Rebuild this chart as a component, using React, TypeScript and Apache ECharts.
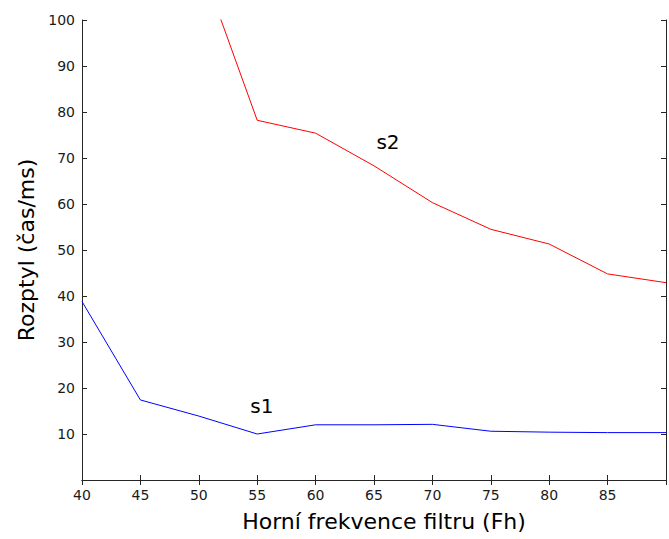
import React, { useEffect, useRef } from "react";
import * as echarts from "echarts";

// Upper filter frequency (Fh) and measured spread for the two subjects
const fh1 = [40, 45, 50, 55, 60, 65, 70, 75, 80, 85, 90];
const s1Values = [38.8, 17.4, 13.9, 10.0, 12.0, 12.0, 12.1, 10.6, 10.4, 10.3, 10.3];
const fh2 = [50, 55, 60, 65, 70, 75, 80, 85, 90];
const s2Values = [113.4, 78.2, 75.4, 68.3, 60.3, 54.5, 51.3, 44.8, 42.9];

const xHiddenLabels = [90];
const yHiddenLabels = [0];

const FONT = "'DejaVu Sans', sans-serif";
const AXIS_COLOR = "#262626";

export default function App() {
  const ref = useRef<HTMLDivElement>(null);

  useEffect(() => {
    if (!ref.current) return;
    const chart = echarts.init(ref.current, undefined, { renderer: "svg" });

    const axisLine = { show: true, lineStyle: { color: AXIS_COLOR, width: 1 } };
    const axisTick = { show: true, inside: true, length: 5, lineStyle: { color: AXIS_COLOR } };

    chart.setOption({
      animation: false,
      backgroundColor: "#ffffff",
      grid: { left: 82, right: 1, top: 20, bottom: 59, containLabel: false },
      xAxis: [
        {
          type: "value",
          min: 40,
          max: 90,
          interval: 5,
          position: "bottom",
          axisLine,
          axisTick,
          splitLine: { show: false },
          axisLabel: {
            margin: 8,
            color: "#1a1a1a",
            fontFamily: FONT,
            fontSize: 14,
            formatter: (v: number) => (xHiddenLabels.includes(v) ? "" : String(v)),
          },
          name: "Horní frekvence filtru (Fh)",
          nameLocation: "middle",
          nameGap: 30,
          nameTextStyle: {
            color: "#000",
            fontFamily: FONT,
            fontSize: 22,
            padding: [0, 0, 0, 20],
          },
        },
        {
          type: "value",
          min: 40,
          max: 90,
          interval: 5,
          position: "top",
          axisLine,
          axisTick,
          splitLine: { show: false },
          axisLabel: { show: false },
        },
      ],
      yAxis: [
        {
          type: "value",
          min: 0,
          max: 100,
          interval: 10,
          position: "left",
          axisLine,
          axisTick,
          splitLine: { show: false },
          axisLabel: {
            margin: 7,
            color: "#1a1a1a",
            fontFamily: FONT,
            fontSize: 14,
            formatter: (v: number) => (yHiddenLabels.includes(v) ? "" : String(v)),
          },
          name: "Rozptyl (čas/ms)",
          nameLocation: "middle",
          nameGap: 44,
          nameTextStyle: { color: "#000", fontFamily: FONT, fontSize: 22 },
        },
        {
          type: "value",
          min: 0,
          max: 100,
          interval: 10,
          position: "right",
          axisLine,
          axisTick,
          splitLine: { show: false },
          axisLabel: { show: false },
        },
      ],
      series: [
        {
          name: "s1",
          type: "line",
          data: fh1.map((x, i) => [x, s1Values[i]]),
          symbol: "none",
          clip: true,
          lineStyle: { color: "#0000ff", width: 1 },
          markPoint: {
            symbol: "circle",
            symbolSize: 0,
            data: [{ coord: [55.4, 16.1] }],
            label: {
              show: true,
              position: "inside",
              formatter: "s1",
              color: "#000",
              fontFamily: FONT,
              fontSize: 20,
            },
          },
        },
        {
          name: "s2",
          type: "line",
          data: fh2.map((x, i) => [x, s2Values[i]]),
          symbol: "none",
          clip: true,
          lineStyle: { color: "#ff0000", width: 1 },
          markPoint: {
            symbol: "circle",
            symbolSize: 0,
            data: [{ coord: [66.2, 73.4] }],
            label: {
              show: true,
              position: "inside",
              formatter: "s2",
              color: "#000",
              fontFamily: FONT,
              fontSize: 20,
            },
          },
        },
      ],
    });

    return () => chart.dispose();
  }, []);

  return (
    <div
      ref={ref}
      style={{ position: "fixed", left: 0, top: 0, width: 669, height: 539, background: "#fff" }}
    />
  );
}
